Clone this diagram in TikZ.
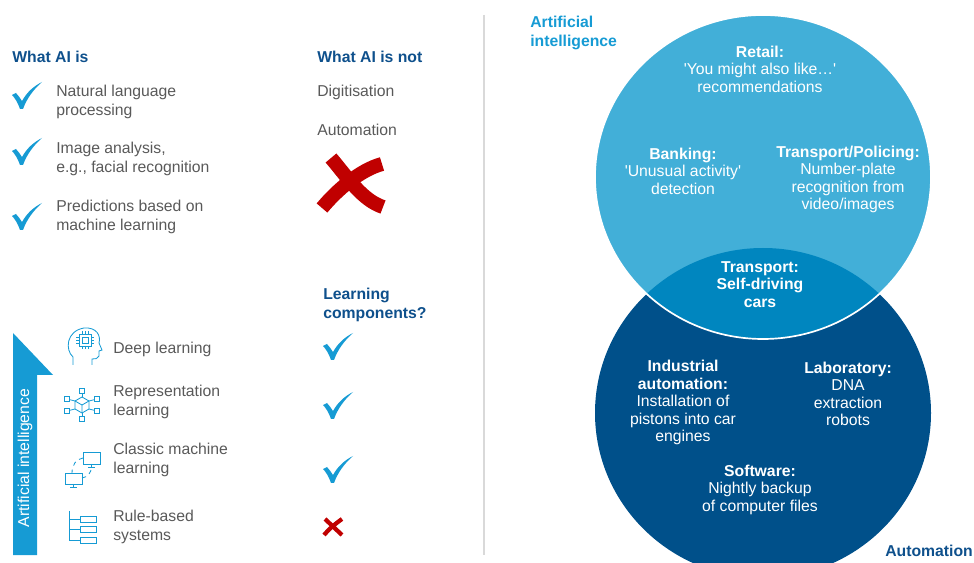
\documentclass[tikz,border=0pt]{standalone}
\usepackage{fontspec}
\setmainfont{Liberation Sans}
\definecolor{aidark}{RGB}{14,80,140}
\definecolor{ailight}{RGB}{22,155,212}
\definecolor{aigray}{RGB}{89,89,89}
\definecolor{aired}{RGB}{192,0,0}
\definecolor{aitop}{RGB}{66,175,216}
\definecolor{ailens}{RGB}{0,134,191}
\definecolor{aibot}{RGB}{0,80,138}
\definecolor{ailine}{RGB}{217,217,217}
\newcommand{\aifont}{\fontsize{11.2}{13.5}\selectfont}
\newcommand{\inqt}{\textquotesingle}
\tikzset{
  txt/.style={anchor=west,align=left,inner sep=0,text=aigray,font=\aifont},
  head/.style={anchor=west,align=left,inner sep=0,text=aidark,font=\aifont\bfseries},
  incirc/.style={align=center,inner sep=0,text=white,font=\fontsize{11.2}{12.4}\selectfont},
  icon/.style={draw=ailight,line width=0.6pt},
  chk/.pic={\fill[ailight] (0,13) -- (4,11) .. controls (6,13) and (8,16) .. (10,19)
      .. controls (15,10) and (22,4) .. (30,0) .. controls (22,7) and (15,16) .. (11,27)
      -- (8,27) .. controls (6,21) and (3,16) .. (0,13) -- cycle;}
}
\begin{document}
\begin{tikzpicture}[x=0.025cm,y=-0.025cm]
\useasboundingbox (0,0) rectangle (974,563);
% left column
\node[head] (isttl) at (12,57) {What AI is};
\foreach \yp in {82,138,203}{\pic at (12,\yp) {chk};}
\node[txt] (nlp) at (56,102) {Natural language\\processing};
\node[txt] (img) at (56,159) {Image analysis,\\e.g., facial recognition};
\node[txt] (pred) at (56,217) {Predictions based on\\machine learning};
% what AI is not
\node[head] (notttl) at (317,57) {What AI is not};
\node[txt] (digi) at (317,92) {Digitisation};
\node[txt] (auto) at (317,130) {Automation};
\draw[aired,line width=10pt] (331,158) .. controls (348,178) and (362,200) .. (383,207);
\draw[aired,line width=10pt] (382,164) .. controls (360,170) and (337,190) .. (322,208);
% learning components
\node[head] (lrnttl) at (323,304.5) {Learning\\components?};
\foreach \yp in {333,392,456}{\pic at (323,\yp) {chk};}
\draw[aired,line width=3pt] (325,519) -- (342,535);
\draw[aired,line width=3pt] (342,519) .. controls (335,524) and (329,529) .. (324,535);
% arrow
\fill[ailight] (13,555) -- (13,333) -- (53,375) -- (37,375) -- (37,555) -- cycle;
\node[rotate=90,inner sep=0,text=white,font=\aifont] (axis) at (25,458) {Artificial intelligence};
% icons
\draw[icon] (73,365) -- (73,357) .. controls (65,350) and (66,331) .. (84,328)
  .. controls (97,327) and (101,336) .. (99,343) -- (102,350) -- (99,351) -- (99,356)
  .. controls (98,359) and (95,359) .. (92,359) -- (92,365);
\draw[icon] (79,334) rectangle (91,346);
\draw[icon] (82,337) rectangle (88,343);
\foreach \p in {82,85,88}{
  \draw[icon] (\p,331) -- (\p,334); \draw[icon] (\p,346) -- (\p,349);}
\foreach \q in {337,340,343}{
  \draw[icon] (76,\q) -- (79,\q); \draw[icon] (91,\q) -- (94,\q);}
\node[txt] (deep) at (113,349) {Deep learning};
\draw[icon] (82,397) -- (89,401) -- (89,409) -- (82,413) -- (75,409) -- (75,401) -- cycle;
\draw[icon] (75,401) -- (82,405) -- (89,401) (82,405) -- (82,413);
\foreach \sx/\sy/\ex/\ey in {82/391/82/397,67/399/75/401,67/411/75/409,97/399/89/401,97/411/89/409,82/419/82/413}{
  \draw[icon] (\sx,\sy) -- (\ex,\ey);
  \draw[icon,fill=white] (\sx-2.5,\sy-2.5) rectangle (\sx+2.5,\sy+2.5);}
\node[txt] (repr) at (113,402) {Representation\\learning};
\draw[icon] (83,452) rectangle (100,464) (91.5,464) -- (91.5,467) (88,467) -- (95,467);
\draw[icon] (65,473) rectangle (82,484) (73.5,484) -- (73.5,487) (70,487) -- (77,487);
\draw[icon,dashed] (83,458) .. controls (76,459) and (72,465) .. (72,473);
\draw[icon,dashed] (82,478) .. controls (88,477) and (91,473) .. (91.5,467);
\node[txt] (cml) at (113,460) {Classic machine\\learning};
\draw[icon] (69,511) -- (69,540) (69,519) -- (80,519) (69,529) -- (80,529) (69,540) -- (80,540);
\foreach \yp in {519,529,540}{\draw[icon] (80,\yp-3) rectangle (96,\yp+3);}
\node[txt] (rule) at (113,527) {Rule-based\\systems};
% divider
\draw[ailine,line width=1pt] (484,15) -- (484,555);
% venn
\coordinate (aicen) at (763,177);
\coordinate (autocen) at (763,413);
\fill[aibot] (autocen) ellipse [x radius=168,y radius=165];
\fill[aitop] (aicen) ellipse [x radius=168,y radius=162];
\begin{scope}
  \clip (aicen) ellipse [x radius=168,y radius=162];
  \fill[ailens] (autocen) ellipse [x radius=168,y radius=165];
\end{scope}
\draw[white,line width=1.2pt] (aicen) ellipse [x radius=168,y radius=162];
\node[head,text=ailight] (aittl) at (530,32.5) {Artificial\\intelligence};
\node[head] (autottl) at (885,551) {Automation};
\node[incirc] (retail) at (760,69) {\textbf{Retail:}\\\inqt You might also like…\inqt\\recommendations};
\node[incirc] (bank) at (683,171) {\textbf{Banking:}\\\inqt Unusual activity\inqt\\detection};
\node[incirc] (police) at (848,179.5) {\textbf{Transport/Policing:}\\Number-plate\\recognition from\\video/images};
\node[incirc,font=\fontsize{11.2}{12.4}\selectfont\bfseries] (cars) at (760,284.5) {Transport:\\Self-driving\\cars};
\node[incirc] (indus) at (683,402.5) {\textbf{Industrial}\\\textbf{automation:}\\Installation of\\pistons into car\\engines};
\node[incirc] (lab) at (848,394) {\textbf{Laboratory:}\\DNA\\extraction\\robots};
\node[incirc] (soft) at (760,489.5) {\textbf{Software:}\\Nightly backup\\of computer files};
\end{tikzpicture}
\end{document}
